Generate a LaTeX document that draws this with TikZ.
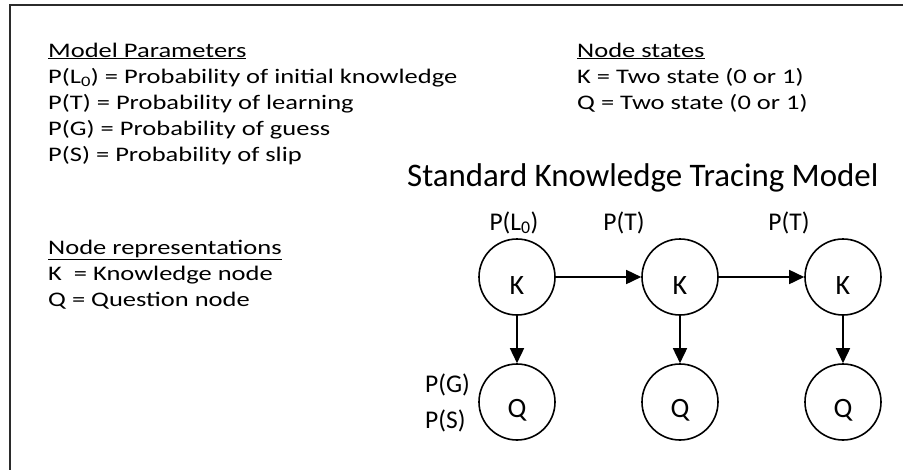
\documentclass[tikz,border=0pt]{standalone}
\usepackage{fontspec}
\setmainfont{Carlito}
\newfontfamily\widefont[FakeStretch=1.28]{Carlito}
\usepackage{xcolor}
\usepackage{tikz}
\usetikzlibrary{arrows.meta}
\definecolor{FrameGray}{HTML}{2B2B2B}

\begin{document}
\begin{tikzpicture}[x=1pt, y=-1pt,
    txt/.style={anchor=base west, inner sep=0pt, font=\widefont\fontsize{20.7pt}{26pt}\selectfont},
    lbl/.style={anchor=base, inner sep=0pt, font=\fontsize{25.5pt}{30pt}\selectfont},
    ktnode/.style={circle, draw, line width=1.6pt, minimum size=76pt, inner sep=0pt,
                   text height=35pt, font=\fontsize{28pt}{30pt}\selectfont},
    arrow/.style={-{Triangle[length=15pt, width=14pt]}, line width=1.6pt}
  ]
    \useasboundingbox (0,0) rectangle (903,469);
    \draw[line width=2.5pt, FrameGray] (10,475) -- (10,5) -- (910,5);

    % legend
    \node[txt] (mp) at (48,57) {\underline{Model Parameters}};
    \node[txt] (pl) at (48,83) {P(L\textsubscript{0}) = Probability of initial knowledge};
    \node[txt] (pt) at (48,109) {P(T) = Probability of learning};
    \node[txt] (pg) at (48,135) {P(G) = Probability of guess};
    \node[txt] (ps) at (48,161) {P(S) = Probability of slip};

    \node[txt] (nr) at (48,254) {\underline{Node representations}};
    \node[txt] (nk) at (48,280) {K\ \ = Knowledge node};
    \node[txt] (nq) at (48,306) {Q = Question node};

    \node[txt] (ns) at (577,57) {\underline{Node states}};
    \node[txt] (sk) at (577,83) {K = Two state (0 or 1)};
    \node[txt] (sq) at (577,109) {Q = Two state (0 or 1)};

    \node[anchor=base west, inner sep=0pt, font=\fontsize{32.9pt}{36pt}\selectfont]
      (title) at (407,186) {Standard Knowledge Tracing Model};

    % model
    \node[ktnode] (k1) at (517,277) {K};
    \node[ktnode] (k2) at (680,277) {K};
    \node[ktnode] (k3) at (843,277) {K};
    \node[ktnode] (q1) at (517,402) {Q};
    \node[ktnode] (q2) at (680,402) {Q};
    \node[ktnode] (q3) at (843,402) {Q};

    \node[lbl] (l0) at (514,230) {P(L\textsubscript{0})};
    \node[lbl] (t1) at (624,230) {P(T)};
    \node[lbl] (t2) at (789,230) {P(T)};
    \node[lbl, anchor=base west] (g1) at (425,392) {P(G)};
    \node[lbl, anchor=base west] (s1) at (425,428) {P(S)};

    \draw[arrow] (k1) -- (k2);
    \draw[arrow] (k2) -- (k3);
    \draw[arrow] (k1) -- (q1);
    \draw[arrow] (k2) -- (q2);
    \draw[arrow] (k3) -- (q3);
  \end{tikzpicture}
\end{document}
